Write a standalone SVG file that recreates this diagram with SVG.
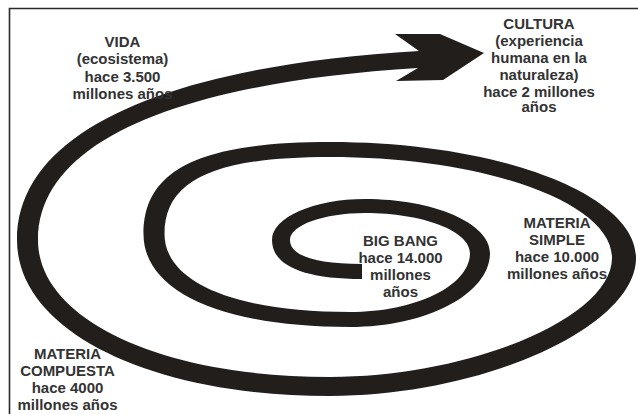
<svg xmlns="http://www.w3.org/2000/svg" width="638" height="414" viewBox="0 0 638 414">
<style>
.lbl{font-family:"Liberation Sans",Arial,sans-serif;font-weight:bold;font-size:15px;fill:#333333;text-anchor:middle}
.frame{fill:none;stroke:#2a2a2a;stroke-width:1.6}
.spiral{fill:#221e1b;stroke:none}
</style>
<rect x="0" y="0" width="638" height="414" fill="#ffffff"/>
<path class="frame" d="M9.5,414 V8.5 H638"/>
<g id="connectors">
<path class="spiral" d="M362,279
C303.5,279 272,265.4 272,240
C272,217.4 313.9,199 365,199
C433.75,199 490,223.3 490,253
C490,293.7 427,327 350,327
C222,327 143.5,291.7 143.5,234
C143.5,169.6 199.45,142 330,142
C498.3,142 636,194.2 636,258
C636,327 483,396 330,396
C148.5,396 17,330.5 17,240
C17,126.6 177.8,65 419,51
L395,34 L440,34 L484,53 L443,80 L396,81 L418,68
C190,82 38,136.8 38,240
C38,319.5 160.6,377 330,377
C471,377 612,317.5 612,258
C612,202.45 485.1,157 330,157
C214.15,157 164.5,180.1 164.5,234
C164.5,282.4 235,312 350,312
C416,312 470,285.45 470,253
C470,231 422.75,213 365,213
C323.75,213 290,225.15 290,240
C290,255.6 315.2,264 362,264 Z"/>
</g>
<g id="vida">
<text class="lbl" x="122.5" y="47">VIDA</text>
<text class="lbl" x="122.5" y="64">(ecosistema)</text>
<text class="lbl" x="122.5" y="81.5">hace 3.500</text>
<text class="lbl" x="122.5" y="98.5">millones años</text>
</g>
<g id="cultura">
<text class="lbl" x="539" y="28.5">CULTURA</text>
<text class="lbl" x="539" y="45.5">(experiencia</text>
<text class="lbl" x="539" y="62.5">humana en la</text>
<text class="lbl" x="539" y="79.5">naturaleza)</text>
<text class="lbl" x="539" y="96.5">hace 2 millones</text>
<text class="lbl" x="539" y="112">años</text>
</g>
<g id="big-bang">
<text class="lbl" x="400.5" y="246">BIG BANG</text>
<text class="lbl" x="400.5" y="263">hace 14.000</text>
<text class="lbl" x="400.5" y="280">millones</text>
<text class="lbl" x="400.5" y="297">años</text>
</g>
<g id="materia-simple">
<text class="lbl" x="557" y="227.5">MATERIA</text>
<text class="lbl" x="557" y="244.5">SIMPLE</text>
<text class="lbl" x="557" y="261.5">hace 10.000</text>
<text class="lbl" x="557" y="278.5">millones años</text>
</g>
<g id="materia-compuesta">
<text class="lbl" x="67.5" y="359">MATERIA</text>
<text class="lbl" x="67.5" y="376">COMPUESTA</text>
<text class="lbl" x="67.5" y="393">hace 4000</text>
<text class="lbl" x="67.5" y="410">millones años</text>
</g>
</svg>
